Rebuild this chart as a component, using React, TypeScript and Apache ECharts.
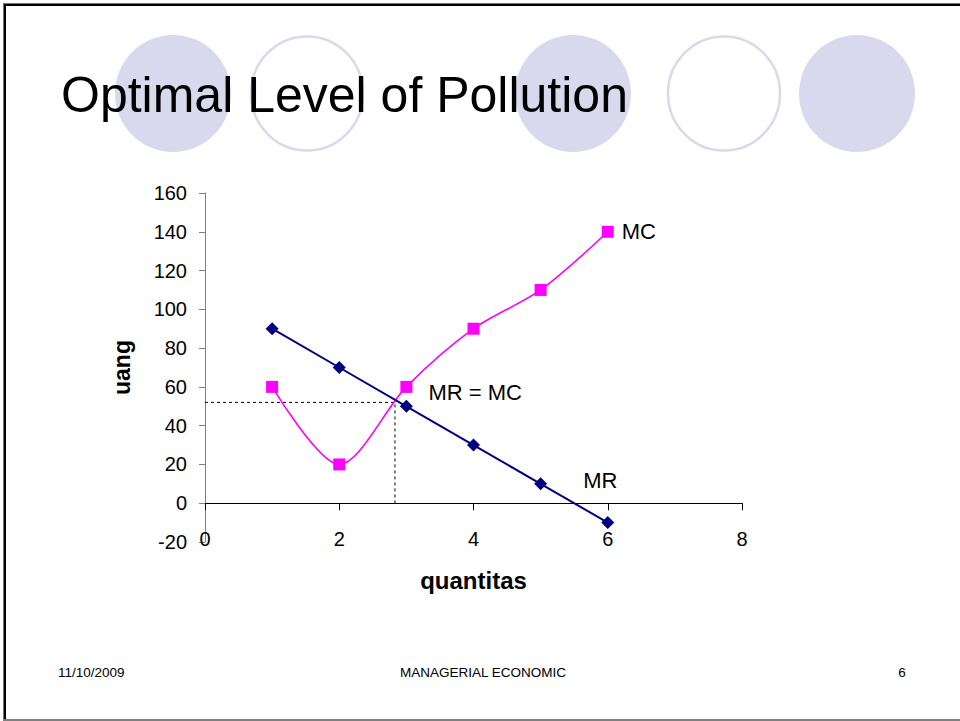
import React, { useEffect, useRef } from "react";
import * as echarts from "echarts";

const quantity = [1, 2, 3, 4, 5, 6];
const mrValues = [90, 70, 50, 30, 10, -10];
const mcValues = [60, 20, 60, 90, 110, 140];
const optimalQuantity = 2.83;
const optimalValue = 52;
const xTicks = { min: 0, max: 8, interval: 2 };
const yTicks = { min: -20, max: 160, interval: 20 };
const titleText = "Optimal Level of Pollution";
const footerDate = "11/10/2009";
const footerCourse = "MANAGERIAL ECONOMIC";
const footerPage = "6";

const FONT = "'Liberation Sans', Arial, Helvetica, sans-serif";
const LAV = "#d9d9ed";

export default function App() {
  const ref = useRef<HTMLDivElement>(null);
  useEffect(() => {
    if (!ref.current) return;
    const chart = echarts.init(ref.current, undefined, { renderer: "svg" });
    const mr = quantity.map((q, i) => {
      const item: any = { value: [q, mrValues[i]] };
      if (i === 4) {
        item.label = {
          show: true,
          formatter: "MR",
          position: "right",
          distance: 36,
          offset: [0, -3],
          fontSize: 22,
          color: "#000",
          fontFamily: FONT,
        };
      }
      return item;
    });
    const mc = quantity.map((q, i) => {
      const item: any = { value: [q, mcValues[i]] };
      if (i === 2) {
        item.label = {
          show: true,
          formatter: "MR = MC",
          position: "right",
          distance: 16,
          offset: [0, 6],
          fontSize: 22,
          color: "#000",
          fontFamily: FONT,
        };
      }
      if (i === 5) {
        item.label = {
          show: true,
          formatter: "MC",
          position: "right",
          distance: 8,
          fontSize: 22,
          color: "#000",
          fontFamily: FONT,
        };
      }
      return item;
    });
    const circles = [
      { cx: 173, filled: true },
      { cx: 307, filled: false },
      { cx: 573, filled: true },
      { cx: 724, filled: false },
      { cx: 857, filled: true },
    ];
    chart.setOption({
      animation: false,
      backgroundColor: "#fff",
      textStyle: { fontFamily: FONT },
      grid: { left: 205, right: 218, top: 193, bottom: 179, containLabel: false },
      xAxis: {
        type: "value",
        min: xTicks.min,
        max: xTicks.max,
        interval: xTicks.interval,
        axisLine: { onZero: true, lineStyle: { color: "#000", width: 1 } },
        axisTick: { show: true, length: 7, lineStyle: { color: "#000" } },
        axisLabel: { fontSize: 20, color: "#000", margin: -13, fontFamily: FONT },
        splitLine: { show: false },
        name: "quantitas",
        nameLocation: "middle",
        nameGap: 26,
        nameTextStyle: { fontSize: 24, fontWeight: "bold", color: "#000", fontFamily: FONT },
      },
      yAxis: {
        type: "value",
        min: yTicks.min,
        max: yTicks.max,
        interval: yTicks.interval,
        axisLine: { show: true, lineStyle: { color: "#808080", width: 1 } },
        axisTick: { show: true, length: 6, lineStyle: { color: "#808080" } },
        axisLabel: { fontSize: 20, color: "#000", margin: 18, fontFamily: FONT },
        splitLine: { show: false },
        name: "uang",
        nameLocation: "middle",
        nameGap: 72,
        nameRotate: 90,
        nameTextStyle: { fontSize: 23, fontWeight: "bold", color: "#000", fontFamily: FONT },
      },
      series: [
        {
          type: "line",
          data: [
            [xTicks.min, optimalValue],
            [optimalQuantity, optimalValue],
            [optimalQuantity, 0],
          ],
          symbol: "none",
          silent: true,
          z: 1,
          lineStyle: { color: "#000", width: 1, type: [3, 3] },
        },
        {
          name: "MR",
          type: "line",
          data: mr,
          symbol: "diamond",
          symbolSize: 13,
          z: 3,
          itemStyle: { color: "#000080" },
          lineStyle: { color: "#000080", width: 2 },
        },
        {
          name: "MC",
          type: "line",
          data: mc,
          smooth: 0.3,
          symbol: "rect",
          symbolSize: 12,
          z: 2,
          itemStyle: { color: "#ff00ff" },
          lineStyle: { color: "#ff00ff", width: 1.6 },
        },
      ],
      graphic: [
        ...circles.map((c) => ({
          type: "ellipse",
          z: -10,
          shape: { cx: c.cx, cy: 93.5, rx: c.filled ? 58 : 56, ry: c.filled ? 58.5 : 57 },
          style: c.filled
            ? { fill: LAV }
            : { fill: "#fff", stroke: LAV, lineWidth: 2.5 },
        })),
        {
          type: "text",
          z: 10,
          x: 61,
          y: 95,
          style: {
            text: titleText,
            fontSize: 50,
            fontFamily: FONT,
            fill: "#000",
            verticalAlign: "middle",
          },
        },
        { type: "rect", shape: { x: 3, y: 3, width: 957, height: 1 }, style: { fill: "#777" } },
        { type: "rect", shape: { x: 3, y: 4, width: 957, height: 2 }, style: { fill: "#000" } },
        { type: "rect", shape: { x: 3, y: 3, width: 1, height: 718 }, style: { fill: "#777" } },
        { type: "rect", shape: { x: 4, y: 4, width: 2, height: 717 }, style: { fill: "#000" } },
        { type: "rect", shape: { x: 3, y: 719, width: 957, height: 2 }, style: { fill: "#808080" } },
        {
          type: "text",
          x: 58,
          y: 672,
          style: { text: footerDate, fontSize: 13.5, fontFamily: FONT, fill: "#000", verticalAlign: "middle" },
        },
        {
          type: "text",
          x: 483,
          y: 672,
          style: {
            text: footerCourse,
            fontSize: 13.5,
            fontFamily: FONT,
            fill: "#000",
            align: "center",
            verticalAlign: "middle",
          },
        },
        {
          type: "text",
          x: 902,
          y: 672,
          style: {
            text: footerPage,
            fontSize: 13.5,
            fontFamily: FONT,
            fill: "#000",
            align: "center",
            verticalAlign: "middle",
          },
        },
      ],
    });
    return () => chart.dispose();
  }, []);
  return (
    <div
      ref={ref}
      style={{ position: "fixed", left: 0, top: 0, width: 960, height: 721 }}
    />
  );
}
